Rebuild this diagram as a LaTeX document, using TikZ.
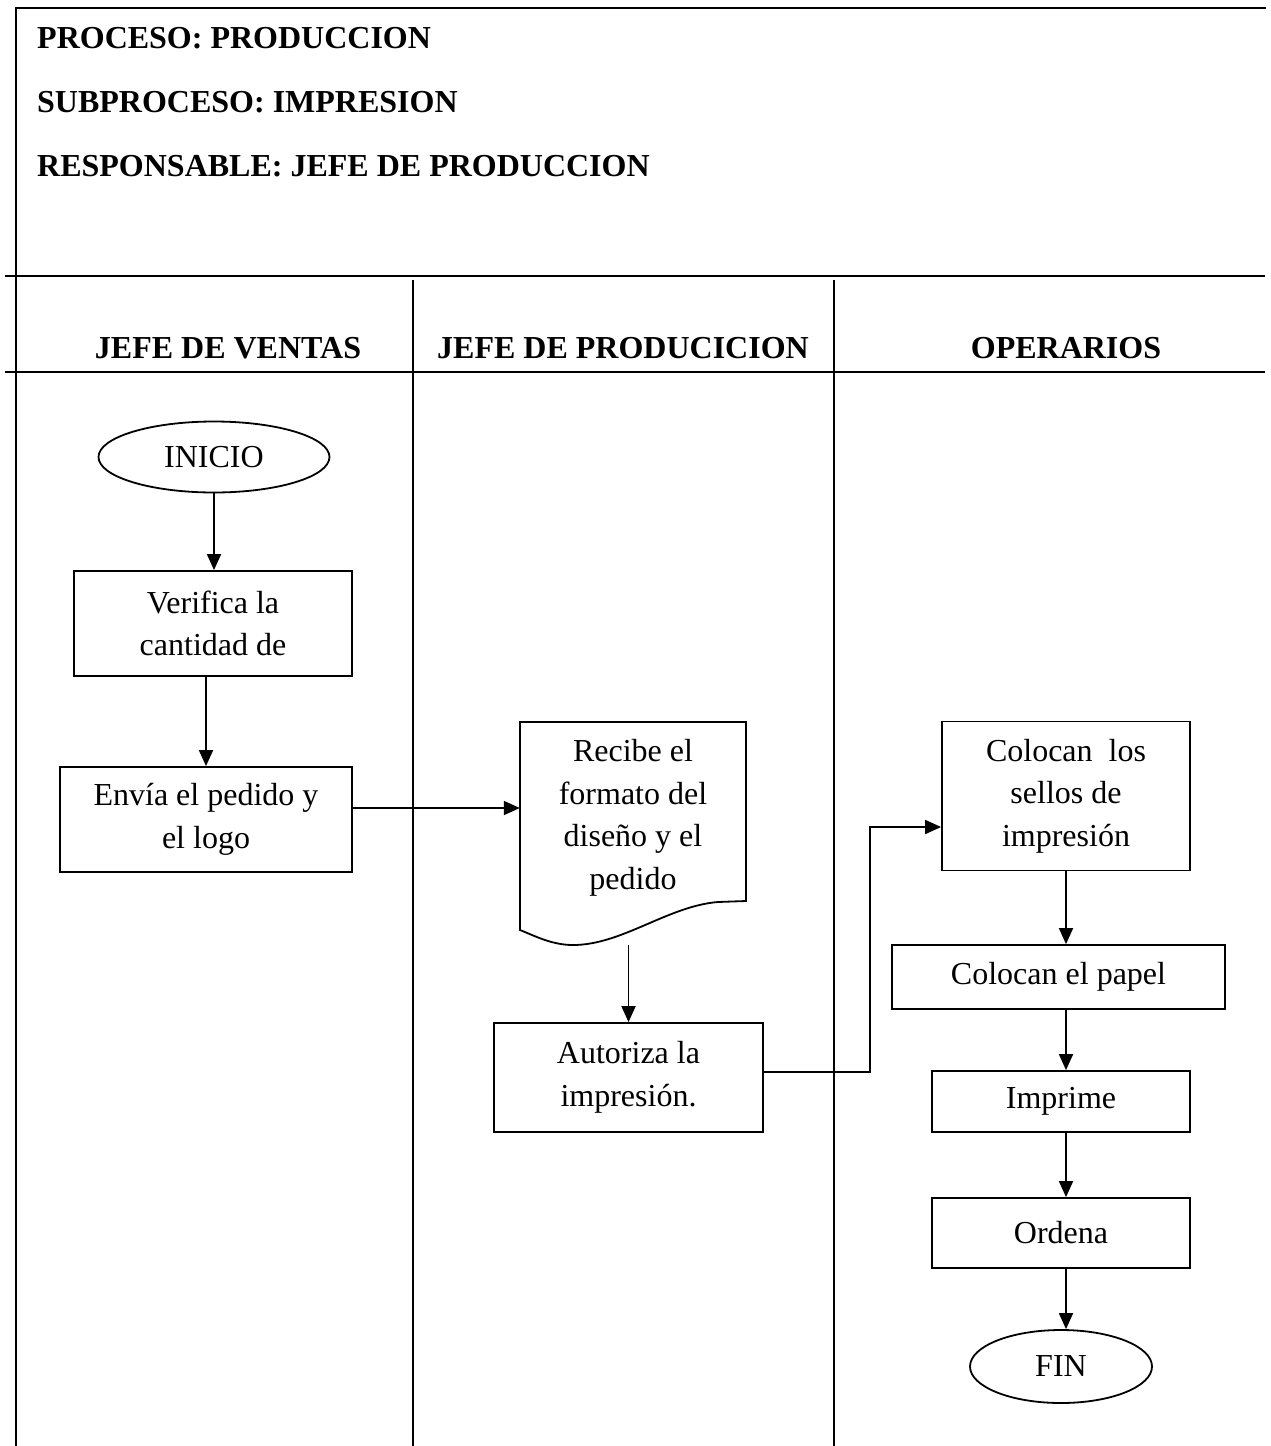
\documentclass[tikz,border=0pt]{standalone}
\usepackage{fontspec}
\setmainfont{Liberation Serif}
\usetikzlibrary{arrows.meta,shapes.geometric}
\begin{document}
\begin{tikzpicture}[x=1pt,y=-1pt,
  rule/.style={line width=2pt},
  flow/.style={line width=1.8pt,-{Triangle[length=16pt,width=14pt]}},
  link/.style={line width=1.8pt},
  box/.style={draw,line width=1.8pt,align=center,inner sep=0pt,
              font=\fontsize{32}{42.5}\selectfont},
  term/.style={ellipse,draw,line width=1.8pt,inner sep=0pt,
               font=\fontsize{32}{40}\selectfont},
  head/.style={font=\fontsize{32}{38}\selectfont\bfseries,inner sep=0pt,anchor=base west},
  lane/.style={font=\fontsize{32}{38}\selectfont\bfseries,inner sep=0pt,anchor=base}]
\useasboundingbox (0,0) rectangle (1271,1446);

% frame and swimlane rules
\draw[rule] (15,8) -- (1266,8);
\draw[rule] (16,8) -- (16,1446);
\draw[rule] (5,276) -- (1265,276);
\draw[rule] (5,372) -- (1265,372);
\draw[rule] (413,280) -- (413,1446);
\draw[rule] (834,280) -- (834,1446);

% header
\node[head] (proc) at (37,48) {PROCESO: PRODUCCION};
\node[head] (sub) at (37,112) {SUBPROCESO: IMPRESION};
\node[head] (resp) at (37,176) {RESPONSABLE: JEFE DE PRODUCCION};

% lane titles
\node[lane] (l1) at (228,358) {JEFE DE VENTAS};
\node[lane] (l2) at (623,358) {JEFE DE PRODUCICION};
\node[lane] (l3) at (1066,358) {OPERARIOS};

% lane 1
\node[term,minimum width=231pt,minimum height=71pt] (inicio) at (214,457) {INICIO};
\node[box,minimum width=278pt,minimum height=105pt] (verifica) at (213,623.5) {Verifica la\\cantidad de};
\node[box,minimum width=292pt,minimum height=105pt] (envia) at (206,819.5) {Envía el pedido y\\el logo};

% lane 2
\node[align=center,inner sep=0pt,minimum width=226pt,minimum height=179pt,
      font=\fontsize{32}{42.5}\selectfont] (doc) at (633,818) {Recibe el\\formato del\\diseño y el\\pedido};
\coordinate (wave) at (573,945);
\draw[link] (520,722) -- (746,722) -- (746,901) -- (718,902)
  .. controls (668,906) and (622,945) .. (wave)
  .. controls (552,945) and (535,936) .. (520,930) -- cycle;
\node[box,minimum width=269pt,minimum height=109pt] (autoriza) at (628.5,1077.5) {Autoriza la\\impresión.};

% lane 3
\node[box,minimum width=248pt,minimum height=149pt] (sellos) at (1066,796) {Colocan\ \ los\\sellos de\\impresión};
\node[box,minimum width=333pt,minimum height=64pt] (papel) at (1058.5,977) {Colocan el papel};
\node[box,minimum width=258pt,minimum height=61pt] (imprime) at (1061,1101.5) {Imprime};
\node[box,minimum width=258pt,minimum height=70pt] (ordena) at (1061,1233) {Ordena};
\node[term,minimum width=182pt,minimum height=73pt] (fin) at (1061,1366.5) {FIN};

% connectors
\draw[flow] (inicio.south) -- (inicio.south |- verifica.north);
\draw[flow] (envia.north |- verifica.south) -- (envia.north);
\draw[flow] (envia.east |- 0,808) -- (doc.west |- 0,808);
\draw[flow] (autoriza.north |- wave) -- (autoriza.north);
\coordinate (bend) at (870,827);
\draw[flow] (autoriza.east |- 0,1072) -- (bend |- 0,1072) -- (bend) -- (bend -| sellos.west);
\draw[flow] (sellos.south) -- (sellos.south |- papel.north);
\draw[flow] (papel.south -| sellos.south) -- (imprime.north -| sellos.south);
\draw[flow] (imprime.south -| sellos.south) -- (ordena.north -| sellos.south);
\draw[flow] (ordena.south -| sellos.south) -- (fin.north -| sellos.south);
\end{tikzpicture}
\end{document}
